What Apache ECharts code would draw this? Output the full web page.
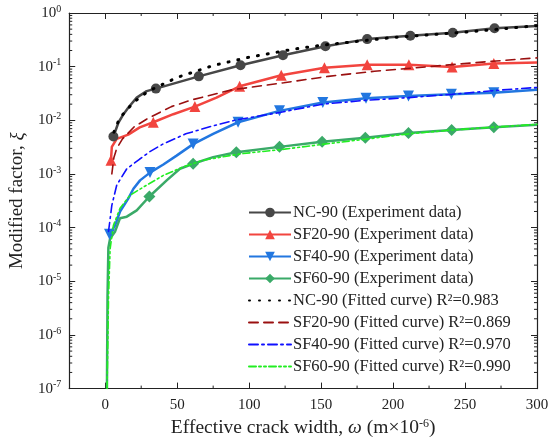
<!DOCTYPE html>
<html>
<head>
<meta charset="utf-8">
<script src="https://cdn.jsdelivr.net/npm/echarts@6/dist/echarts.min.js"></script>
<style>
  html, body { margin: 0; padding: 0; background: #fff; }
  #chart { width: 553px; height: 443px; }
</style>
</head>
<body>
<div id="chart"></div>
<script>
// 实验数据 (marks: 1 = 画标记)
const ncX = [5.7, 9.2, 12.7, 16.1, 21.9, 28.8, 35.2, 65, 94, 123.5, 153, 182, 212, 241.5, 270.5, 300]
const ncY = [5.0e-3, 9.1e-3, 0.013, 0.0173, 0.0265, 0.035, 0.039, 0.066, 0.106, 0.163, 0.24, 0.326, 0.376, 0.43, 0.52, 0.575]
const ncMarks = [1, 0, 0, 0, 0, 0, 1, 1, 1, 1, 1, 1, 1, 1, 1, 0]

const sf20X = [4, 4.6, 8, 16, 24, 33.4, 47.3, 62.3, 77.3, 93.4, 122.3, 152.3, 182, 211, 241, 270, 300]
const sf20Y = [1.8e-3, 3.2e-3, 4.5e-3, 5.4e-3, 7.4e-3, 9.2e-3, 0.013, 0.018, 0.0265, 0.043, 0.069, 0.095, 0.109, 0.109, 0.099, 0.114, 0.12]
const sf20Marks = [1, 0, 0, 0, 0, 1, 0, 1, 0, 1, 1, 1, 1, 1, 1, 1, 0]

const sf40X = [3, 6.9, 10.3, 16.1, 19.6, 24.2, 31.1, 40.4, 49.6, 61.1, 75, 92.3, 121.1, 151.2, 181.2, 210.7, 240.5, 270, 300]
const sf40Y = [7.5e-5, 1.1e-4, 2e-4, 3.5e-4, 5.3e-4, 7.6e-4, 1.06e-3, 1.5e-3, 2.2e-3, 3.6e-3, 5.6e-3, 9.2e-3, 0.015, 0.0214, 0.0257, 0.0284, 0.0305, 0.0328, 0.037]
const sf40Marks = [1, 0, 0, 0, 0, 0, 1, 0, 0, 1, 0, 1, 1, 1, 1, 1, 1, 1, 0]

const sf60X = [1.2, 1.6, 2.2, 3.4, 6.9, 10.3, 15, 21.9, 30.7, 42.7, 51.9, 61.1, 75, 91.1, 121.1, 150.7, 180.7, 210.7, 240.7, 270, 300]
const sf60Y = [1e-7, 5e-6, 4.2e-5, 6.3e-5, 8.5e-5, 1.5e-4, 1.6e-4, 2.1e-4, 3.8e-4, 7.6e-4, 1.25e-3, 1.55e-3, 2.06e-3, 2.55e-3, 3.2e-3, 4e-3, 4.75e-3, 5.8e-3, 6.6e-3, 7.4e-3, 8.3e-3]
const sf60Marks = [0, 0, 0, 0, 0, 0, 0, 0, 1, 0, 0, 1, 0, 1, 1, 1, 1, 1, 1, 1, 0]

// 拟合曲线
const ncFitX = [6, 10, 20, 30, 50, 75, 100, 130, 150, 200, 250, 300]
const ncFitY = [0.006, 0.011, 0.022, 0.035, 0.063, 0.105, 0.15, 0.21, 0.25, 0.35, 0.44, 0.58]

const sf20FitX = [4.6, 6, 8, 12, 20, 30, 46, 60, 88, 124, 155, 187, 241, 269, 300]
const sf20FitY = [1.0e-3, 2.0e-3, 3.0e-3, 4.5e-3, 7.5e-3, 0.011, 0.018, 0.024, 0.037, 0.05, 0.066, 0.082, 0.109, 0.126, 0.146]

const sf40FitX = [2.3, 4.6, 8, 15, 24, 31, 40, 56, 75, 92, 122, 151, 181, 211, 241, 271, 300]
const sf40FitY = [8.5e-5, 2.6e-4, 6.2e-4, 1.25e-3, 1.9e-3, 2.6e-3, 3.6e-3, 5.6e-3, 7.9e-3, 0.0103, 0.0141, 0.02, 0.0236, 0.0265, 0.0305, 0.036, 0.041]

const sf60FitX = [1.3, 2.3, 3.4, 5.7, 10.3, 17.2, 26.5, 40.4, 54.2, 68, 86.5, 95.8, 124.6, 152.3, 182.3, 211, 241, 271, 300]
const sf60FitY = [1e-7, 5e-6, 4e-5, 1.1e-4, 2.3e-4, 4e-4, 5.7e-4, 9.4e-4, 1.35e-3, 1.8e-3, 2.2e-3, 2.4e-3, 2.9e-3, 3.6e-3, 4.5e-3, 5.6e-3, 6.6e-3, 7.5e-3, 8.4e-3]

const expNames = ['NC-90 (Experiment data)', 'SF20-90 (Experiment data)', 'SF40-90 (Experiment data)', 'SF60-90 (Experiment data)']
const fitNames = ['NC-90 (Fitted curve) R²=0.983', 'SF20-90 (Fitted curve) R²=0.869', 'SF40-90 (Fitted curve) R²=0.970', 'SF60-90 (Fitted curve) R²=0.990']

// 刻度
const xMinorTicks = [25, 75, 125, 175, 225, 275]
const yMinorTicks = []
for (let e = -7; e < 0; e++) {
  for (let k = 2; k <= 9; k++) yMinorTicks.push(k * Math.pow(10, e))
}

const font = 'Liberation Serif'
const textColor = '#222'

function expData(xs, ys, marks) {
  return xs.map((x, i) => marks[i] ? [x, ys[i]] : { value: [x, ys[i]], symbol: 'none' })
}
function fitData(xs, ys) {
  return xs.map((x, i) => [x, ys[i]])
}

function expSeries(name, xs, ys, marks, color, symbol, size) {
  return {
    name, type: 'line', data: expData(xs, ys, marks),
    symbol, symbolSize: size,
    lineStyle: { color, width: 2.5 },
    itemStyle: { color },
    z: 3
  }
}
function fitSeries(name, xs, ys, color, dash, width) {
  return {
    name, type: 'line', data: fitData(xs, ys),
    symbol: 'none',
    lineStyle: { color, width, type: dash, cap: 'round' },
    itemStyle: { color },
    z: 4
  }
}

const sup = { fontSize: 10, fontFamily: font, color: textColor, padding: [0, 0, 8, 0] }

const option = {
  animation: false,
  grid: { left: 68, right: 16, top: 13, bottom: 51 },
  xAxis: [
    {
      type: 'value', min: -25, max: 300, splitNumber: 6, position: 'bottom',
      name: 'Effective crack width, {i|ω} (m×10{s|-6})',
      nameLocation: 'middle', nameGap: 24,
      nameTextStyle: {
        fontFamily: font, fontSize: 19.5, color: textColor,
        rich: {
          i: { fontFamily: font, fontSize: 19.5, fontStyle: 'italic', color: textColor },
          s: { fontSize: 12, fontFamily: font, color: textColor, padding: [0, 0, 9, 0] }
        }
      },
      axisLine: { onZero: false, lineStyle: { color: textColor, width: 1.2 } },
      axisTick: { inside: true, length: 6, lineStyle: { color: textColor } },
      axisLabel: {
        fontFamily: font, fontSize: 15, color: textColor, margin: 9,
        formatter: v => v < 0 ? '' : String(v)
      },
      splitLine: { show: false }
    },
    {
      type: 'value', min: -25, max: 300, splitNumber: 6, position: 'top',
      axisLine: { onZero: false, lineStyle: { color: textColor, width: 1.2 } },
      axisTick: { inside: true, length: 6, lineStyle: { color: textColor } },
      axisLabel: { show: false },
      splitLine: { show: false }
    }
  ],
  yAxis: [
    {
      type: 'log', min: 1e-7, max: 1, interval: 1, logBase: 10, position: 'left',
      name: 'Modified factor, {i|ξ}',
      nameLocation: 'middle', nameGap: 42,
      nameTextStyle: {
        fontFamily: font, fontSize: 19, color: textColor,
        rich: { i: { fontFamily: font, fontSize: 19, fontStyle: 'italic', color: textColor } }
      },
      axisLine: { show: true, onZero: false, lineStyle: { color: textColor, width: 1.2 } },
      axisTick: { inside: true, length: 6, lineStyle: { color: textColor } },
      axisLabel: {
        fontFamily: font, fontSize: 15, color: textColor, margin: 8,
        formatter: v => '10{s|' + Math.round(Math.log10(v)) + '}',
        rich: { s: sup }
      },
      splitLine: { show: false }
    },
    {
      type: 'log', min: 1e-7, max: 1, interval: 1, logBase: 10, position: 'right',
      axisLine: { show: true, onZero: false, lineStyle: { color: textColor, width: 1.2 } },
      axisTick: { inside: true, length: 6, lineStyle: { color: textColor } },
      axisLabel: { show: false },
      splitLine: { show: false }
    }
  ],
  legend: {
    orient: 'vertical', left: 243, top: 199,
    itemWidth: 42, itemHeight: 12, itemGap: 5,
    textStyle: { fontFamily: font, fontSize: 16.5, lineHeight: 16, color: textColor, padding: [0, 0, 0, -3] },
    data: expNames.concat(fitNames.map(n => ({ name: n, itemStyle: { opacity: 0 } })))
  },
  series: [
    expSeries(expNames[0], ncX, ncY, ncMarks, '#474747', 'circle', 10),
    expSeries(expNames[1], sf20X, sf20Y, sf20Marks, '#f2453f', 'triangle', 11),
    expSeries(expNames[2], sf40X, sf40Y, sf40Marks, '#2277e0', 'path://M0,0 L10,0 L5,10 Z', 11),
    expSeries(expNames[3], sf60X, sf60Y, sf60Marks, '#3aaa68', 'diamond', 12),
    fitSeries(fitNames[0], ncFitX, ncFitY, '#000000', [1, 9], 3),
    fitSeries(fitNames[1], sf20FitX, sf20FitY, '#9a1010', [9, 6], 1.6),
    fitSeries(fitNames[2], sf40FitX, sf40FitY, '#1010ff', [9, 4, 2, 4], 1.6),
    fitSeries(fitNames[3], sf60FitX, sf60FitY, '#22ee22', [7, 3, 2, 3, 2, 3], 1.6),
    {
      // 次刻度 (y 对数, x 中间)
      name: 'minorTicks', type: 'custom', silent: true, z: 1,
      data: yMinorTicks.map(v => [0, v]).concat(xMinorTicks.map(v => [v, 1e-7])),
      renderItem: (params, api) => {
        const cs = params.coordSys
        const i = params.dataIndex
        const style = { stroke: textColor, lineWidth: 1 }
        if (i < yMinorTicks.length) {
          const y = api.coord([0, api.value(1)])[1]
          return {
            type: 'group', children: [
              { type: 'line', shape: { x1: cs.x, y1: y, x2: cs.x + 3, y2: y }, style },
              { type: 'line', shape: { x1: cs.x + cs.width - 3, y1: y, x2: cs.x + cs.width, y2: y }, style }
            ]
          }
        }
        const x = api.coord([api.value(0), 1e-7])[0]
        return {
          type: 'group', children: [
            { type: 'line', shape: { x1: x, y1: cs.y + cs.height, x2: x, y2: cs.y + cs.height - 3 }, style },
            { type: 'line', shape: { x1: x, y1: cs.y, x2: x, y2: cs.y + 3 }, style }
          ]
        }
      }
    }
  ]
}

const chart = echarts.init(document.getElementById('chart'))
chart.setOption(option)
</script>
</body>
</html>
